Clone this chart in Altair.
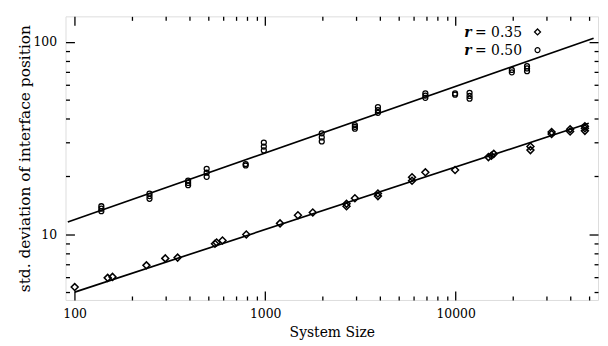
import altair as alt
import pandas as pd

# r = 0.35 series (open diamonds)
x35 = [100, 149, 158, 238, 299, 347, 545, 556, 597, 796, 1197, 1486, 1778,
       2673, 2673, 2958, 3908, 3908, 5902, 5902, 6934, 9930,
       14860, 15400, 15850, 24700, 24700, 31900, 31900, 39900, 39900,
       47700, 47700, 47700]
y35 = [5.32, 5.94, 6.01, 6.9, 7.5, 7.57, 8.93, 9.07, 9.29, 9.98, 11.4, 12.56, 13.0,
       14.0, 14.4, 15.4, 15.8, 16.3, 19.0, 19.8, 21.0, 21.6,
       25.2, 25.6, 26.2, 27.4, 28.6, 33.2, 34.0, 34.2, 35.2,
       34.5, 35.6, 36.5]

# r = 0.50 series (open circles)
x50 = [138, 138, 138, 247, 247, 247, 394, 394, 394, 493, 493, 493, 790, 790,
       984, 984, 984, 1982, 1982, 1982, 2958, 2958, 2958, 3908, 3908, 3908,
       6934, 6934, 6934, 9930, 9930, 11830, 11830, 11830, 19720, 19720,
       23700, 23700, 23700]
y50 = [13.2, 13.6, 14.0, 15.3, 15.8, 16.3, 18.0, 18.5, 19.0, 19.9, 20.9, 21.9, 22.8, 23.2,
       27.3, 28.6, 30.0, 30.4, 31.9, 33.5, 35.4, 36.2, 37.0, 42.8, 44.2, 45.9,
       51.2, 52.6, 54.0, 53.2, 54.0, 50.7, 52.4, 54.4, 69.5, 71.5,
       70.5, 72.8, 74.8]

# fitted lines (end points)
fit_x = [92, 53000, 100, 50000]
fit_y = [11.6, 104.5, 5.01, 37.8]
fit_s = ["0.50", "0.50", "0.35", "0.35"]

x_major = [100, 1000, 10000]
x_minor = [200, 300, 400, 500, 600, 700, 800, 900,
           2000, 3000, 4000, 5000, 6000, 7000, 8000, 9000,
           20000, 30000, 40000, 50000]
y_major = [10, 100]
y_minor = [5, 6, 7, 8, 9, 20, 30, 40, 50, 60, 70, 80, 90]

legend_labels = ["= 0.35", "= 0.50"]

FONT = "DejaVu Serif"
xdom = [89.5, 55900]
ydom = [4.56, 135.8]

d35 = pd.DataFrame({"x": x35, "y": y35})
d50 = pd.DataFrame({"x": x50, "y": y50})
dfit = pd.DataFrame({"x": fit_x, "y": fit_y, "s": fit_s})

xs = alt.Scale(type="log", domain=xdom, nice=False, zero=False)
ys = alt.Scale(type="log", domain=ydom, nice=False, zero=False)


def tick_axis(orient, values, size):
    return alt.Axis(orient=orient, values=values, tickSize=size, offset=-size,
                    labels=False, domain=False, title=None, grid=False,
                    tickColor="black", tickWidth=1.3)


lab_x = alt.Axis(orient="bottom", values=x_major, ticks=False, domain=False, grid=False,
                 format="d",
                 labelFont=FONT, labelFontSize=12.5, labelColor="black", labelPadding=8,
                 labelBaseline="top",
                 title="System Size", titleFont=FONT, titleFontSize=14,
                 titleFontWeight="normal", titleColor="black", titlePadding=5)
lab_y = alt.Axis(orient="left", values=y_major, ticks=False, domain=False, grid=False,
                 format="d",
                 labelFont=FONT, labelFontSize=12.5, labelColor="black", labelPadding=9,
                 title="std. deviation of interface position", titleFont=FONT,
                 titleFontSize=15.5, titleFontWeight="normal", titleColor="black",
                 titlePadding=0)

pts35 = alt.Chart(d35).mark_point(shape="diamond", size=49, filled=False,
                                  strokeWidth=1.5, color="black", opacity=1).encode(
    x=alt.X("x:Q", scale=xs, axis=lab_x),
    y=alt.Y("y:Q", scale=ys, axis=lab_y),
)

pts50 = alt.Chart(d50).mark_point(shape="circle", size=25, filled=False,
                                  strokeWidth=1.3, color="black", opacity=1).encode(
    x=alt.X("x:Q", scale=xs, axis=tick_axis("bottom", x_major, 9)),
    y=alt.Y("y:Q", scale=ys, axis=tick_axis("left", y_major, 9)),
)

lines = alt.Chart(dfit).mark_line(color="black", strokeWidth=1.7).encode(
    x=alt.X("x:Q", scale=xs, axis=tick_axis("bottom", x_minor, 4)),
    y=alt.Y("y:Q", scale=ys, axis=tick_axis("left", y_minor, 4)),
    detail="s:N",
)

inv1 = alt.Chart(d35).mark_point(opacity=0).encode(
    x=alt.X("x:Q", scale=xs, axis=tick_axis("top", x_major, 9)),
    y=alt.Y("y:Q", scale=ys, axis=tick_axis("right", y_major, 9)),
)
inv2 = alt.Chart(d35).mark_point(opacity=0).encode(
    x=alt.X("x:Q", scale=xs, axis=tick_axis("top", x_minor, 4)),
    y=alt.Y("y:Q", scale=ys, axis=tick_axis("right", y_minor, 4)),
)

dleg = pd.DataFrame({"lab": legend_labels, "r": ["r", "r"], "row": [0, 1]})

leg_r1 = alt.Chart(dleg).transform_filter("datum.row == 0").mark_text(
    font=FONT, fontSize=14, fontStyle="italic", fontWeight="bold", align="left",
    baseline="middle", color="black").encode(text="r:N", x=alt.value(402), y=alt.value(16.7))
leg_r2 = alt.Chart(dleg).transform_filter("datum.row == 1").mark_text(
    font=FONT, fontSize=14, fontStyle="italic", fontWeight="bold", align="left",
    baseline="middle", color="black").encode(text="r:N", x=alt.value(402), y=alt.value(35))
leg_t1 = alt.Chart(dleg).transform_filter("datum.row == 0").mark_text(
    font=FONT, fontSize=14, align="left", baseline="middle", color="black").encode(
    text="lab:N", x=alt.value(413), y=alt.value(16.7))
leg_t2 = alt.Chart(dleg).transform_filter("datum.row == 1").mark_text(
    font=FONT, fontSize=14, align="left", baseline="middle", color="black").encode(
    text="lab:N", x=alt.value(413), y=alt.value(35))
leg_s1 = alt.Chart(dleg).transform_filter("datum.row == 0").mark_point(
    shape="diamond", size=36, filled=False, strokeWidth=1.3, color="black", opacity=1).encode(
    x=alt.value(476), y=alt.value(15.7))
leg_s2 = alt.Chart(dleg).transform_filter("datum.row == 1").mark_point(
    shape="circle", size=25, filled=False, strokeWidth=1.2, color="black", opacity=1).encode(
    x=alt.value(476), y=alt.value(34))

chart = alt.layer(
    pts35, pts50, lines, inv1, inv2,
    leg_r1, leg_r2, leg_t1, leg_t2, leg_s1, leg_s2,
).resolve_scale(x="shared", y="shared").resolve_axis(
    x="independent", y="independent"
).properties(
    width=537, height=286,
    autosize=alt.AutoSizeParams(type="none"),
    padding={"left": 58, "top": 7, "right": 2, "bottom": 45},
).configure_view(
    stroke="black", strokeWidth=1.6
).configure(background="white")

chart.save("out.html", embed_options={"renderer": "svg", "actions": False})
